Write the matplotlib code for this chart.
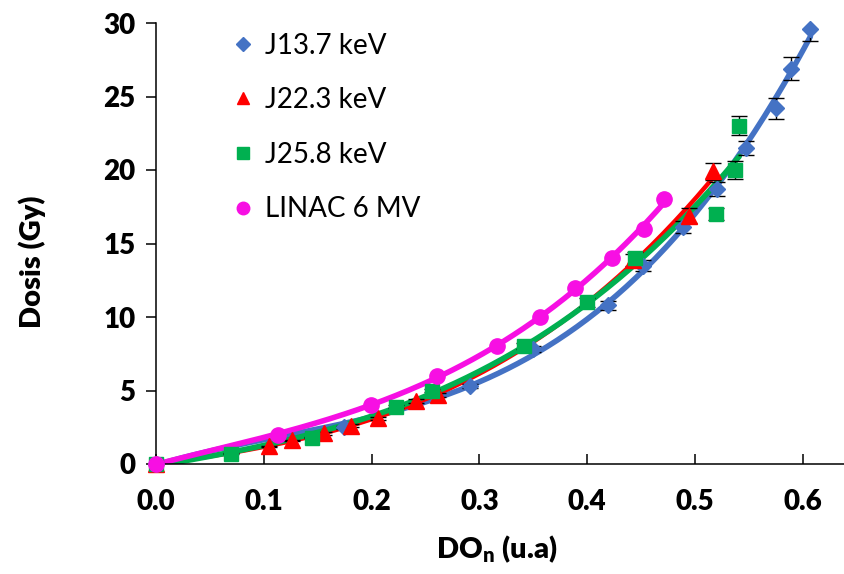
import numpy as np
import matplotlib
matplotlib.use('Agg')
import matplotlib.pyplot as plt
from matplotlib.lines import Line2D

plt.rcParams['font.family'] = 'Lato'
plt.rcParams['mathtext.fontset'] = 'custom'
plt.rcParams['mathtext.rm'] = 'Lato:heavy'

# optical density (normalised) vs dose for each beam
x_137 = [0.0, 0.174, 0.291, 0.350, 0.419, 0.452, 0.489, 0.520, 0.547, 0.575, 0.589, 0.607]
y_137 = [0.0, 2.5, 5.3, 7.8, 10.8, 13.5, 16.1, 18.7, 21.5, 24.2, 26.9, 29.6]
e_137 = [0.0, 0.1, 0.15, 0.2, 0.3, 0.4, 0.4, 0.5, 0.5, 0.7, 0.8, 0.8]

x_223 = [0.0, 0.105, 0.126, 0.156, 0.181, 0.206, 0.241, 0.262, 0.442, 0.494, 0.517]
y_223 = [0.0, 1.2, 1.6, 2.1, 2.6, 3.1, 4.3, 4.7, 13.9, 16.9, 19.9]
e_223 = [0.0, 0.05, 0.05, 0.1, 0.1, 0.1, 0.15, 0.15, 0.4, 0.5, 0.6]

x_258 = [0.0, 0.070, 0.145, 0.223, 0.256, 0.341, 0.400, 0.444, 0.519, 0.537, 0.541]
y_258 = [0.0, 0.7, 1.8, 3.9, 5.0, 8.0, 11.0, 14.0, 17.0, 20.0, 23.0]
e_258 = [0.0, 0.05, 0.05, 0.1, 0.1, 0.2, 0.3, 0.4, 0.4, 0.6, 0.65]

x_linac = [0.0, 0.113, 0.199, 0.261, 0.316, 0.356, 0.389, 0.423, 0.453, 0.471]
y_linac = [0, 2, 4, 6, 8, 10, 12, 14, 16, 18]

c_blue = '#4472C4'
c_red = '#FF0000'
c_green = '#00B050'
c_mag = '#F70FE3'

fig = plt.figure(figsize=(8.45, 5.74), dpi=100)
ax = fig.add_axes([156/845, 110/574, 690/845, 441/574])


def fit_line(x, y, color, lw, deg=3):
    # cubic trend line through the measured points
    p = np.polyfit(x, y, deg)
    xs = np.linspace(0, max(x), 200)
    ax.plot(xs, np.polyval(p, xs), color=color, lw=lw, solid_capstyle='round', zorder=2)


fit_line(x_137, y_137, c_blue, 4.0)
fit_line(x_223, y_223, c_red, 3.2)
fit_line(x_258, y_258, c_green, 4.0)
fit_line(x_linac, y_linac, c_mag, 4.0)

for x, y, e in [(x_137, y_137, e_137), (x_223, y_223, e_223), (x_258, y_258, e_258)]:
    ax.errorbar(x, y, yerr=e, fmt='none', ecolor='black', elinewidth=1.0,
                capsize=6, capthick=1.0, zorder=3)

ax.plot(x_137, y_137, 'D', color=c_blue, ms=8, mec=c_blue, ls='none', zorder=4, clip_on=False)
ax.plot(x_223, y_223, '^', color=c_red, ms=11, mec=c_red, ls='none', zorder=4, clip_on=False)
ax.plot(x_258, y_258, 's', color=c_green, ms=10, mec=c_green, ls='none', zorder=4, clip_on=False)
ax.plot(x_linac, y_linac, 'o', color=c_mag, ms=11, mec=c_mag, ls='none', zorder=5, clip_on=False)

ax.set_xlim(0, 0.64)
ax.set_ylim(0, 30)
ax.set_xticks([0.0, 0.1, 0.2, 0.3, 0.4, 0.5, 0.6])
ax.set_xticklabels(['0.0', '0.1', '0.2', '0.3', '0.4', '0.5', '0.6'])
ax.set_yticks([0, 5, 10, 15, 20, 25, 30])

ax.spines['top'].set_visible(False)
ax.spines['right'].set_visible(False)
for s in ('left', 'bottom'):
    ax.spines[s].set_linewidth(1.1)

ax.tick_params(axis='x', direction='in', length=7, width=1.1, pad=18, labelsize=20)
ax.tick_params(axis='y', direction='out', length=7, width=1.1, pad=8, labelsize=20)
for lab in ax.get_xticklabels() + ax.get_yticklabels():
    lab.set_fontweight('heavy')

ax.set_xlabel(r'DO$_\mathrm{n}$ (u.a)', fontsize=21, fontweight='heavy')
ax.set_ylabel('Dosis (Gy)', fontsize=21, fontweight='heavy')
ax.xaxis.set_label_coords(0.494, -0.158)
ax.yaxis.set_label_coords(-0.16, 0.458)

handles = [
    Line2D([], [], marker='D', color=c_blue, ls='none', ms=7),
    Line2D([], [], marker='^', color=c_red, ls='none', ms=9),
    Line2D([], [], marker='s', color=c_green, ms=8, ls='none'),
    Line2D([], [], marker='o', color=c_mag, ls='none', ms=9),
]
labels = ['J13.7 keV', 'J22.3 keV', 'J25.8 keV', 'LINAC 6 MV']
ax.legend(handles, labels, loc='upper left', bbox_to_anchor=(0.07, 1.035),
          frameon=False, fontsize=20, labelspacing=1.03, handlelength=1.0,
          handletextpad=0.3)

fig.savefig('out.png', dpi=100)
